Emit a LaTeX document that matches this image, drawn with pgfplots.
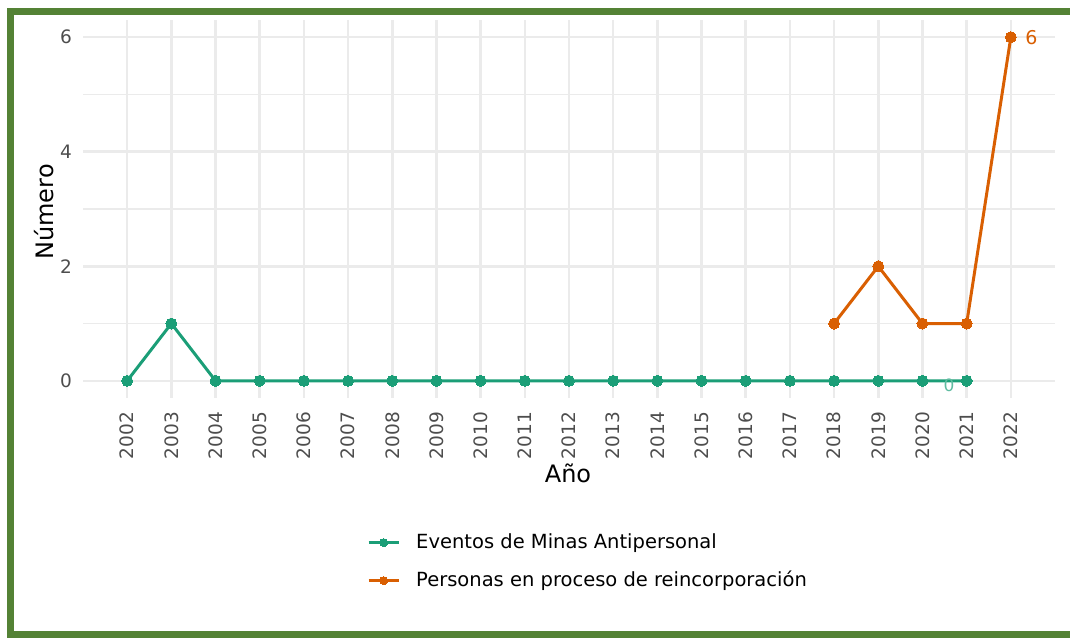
\documentclass[border=0pt]{standalone}
\usepackage{fontspec}
\setmainfont{DejaVu Sans}
\usepackage{pgfplots}
\pgfplotsset{compat=1.18}
\definecolor{cgreen}{HTML}{1B9E77}
\definecolor{corange}{HTML}{D95F02}
\definecolor{tickgray}{HTML}{4D4D4D}
\definecolor{gridgray}{HTML}{EBEBEB}
\definecolor{framegreen}{HTML}{548235}
\begin{document}
\begin{tikzpicture}[x=1pt,y=1pt]
\useasboundingbox (0,0) rectangle (1070,637);
\draw[framegreen, line width=7pt] (1070,625.5) -- (10.5,625.5) -- (10.5,2.5) -- (1070,2.5);
\begin{axis}[
  at={(83pt,239pt)}, anchor=south west,
  width=972pt, height=378pt, scale only axis,
  xmin=2001, xmax=2023, ymin=-0.3, ymax=6.3,
  axis line style={draw=none},
  major tick length=0pt, minor tick length=0pt,
  xtick={2002,2003,2004,2005,2006,2007,2008,2009,2010,2011,2012,2013,2014,2015,2016,2017,2018,2019,2020,2021,2022},
  xticklabels={2002,2003,2004,2005,2006,2007,2008,2009,2010,2011,2012,2013,2014,2015,2016,2017,2018,2019,2020,2021,2022},
  ytick={0,2,4,6}, yticklabels={0,2,4,6},
  minor ytick={1,3,5},
  xmajorgrids, ymajorgrids, yminorgrids,
  major grid style={gridgray, line width=2.5pt},
  minor grid style={gridgray, line width=1.3pt},
  xticklabel style={rotate=90, anchor=east, inner sep=0pt, font=\fontsize{18.5}{20}\selectfont, text=tickgray},
  yticklabel style={anchor=east, inner sep=0pt, font=\fontsize{18.5}{20}\selectfont, text=tickgray},
  xticklabel shift=14pt, yticklabel shift=11pt,
  clip=false,
  legend cell align=left,
  legend style={at={(rel axis cs:0.2922,-0.357)}, anchor=north west, draw=none, fill=none, inner sep=0pt,
    row sep=19pt, column sep=16pt, font=\fontsize{19.5}{21}\selectfont,
    nodes={inner sep=0pt, text height=15pt, text depth=4pt}},
  legend image code/.code={
    \draw[#1, mark=none] (0pt,0pt) -- (30pt,0pt);
    \draw[#1, mark size=4pt] plot coordinates {(15pt,0pt)};
  },
]
\addplot[cgreen, line width=3pt, mark=*, mark size=5.5pt, mark options={solid, line width=0pt}] coordinates {
(2002,0) (2003,1) (2004,0) (2005,0) (2006,0) (2007,0) (2008,0) (2009,0) (2010,0) (2011,0)
(2012,0) (2013,0) (2014,0) (2015,0) (2016,0) (2017,0) (2018,0) (2019,0) (2020,0) (2021,0)};
\addlegendentry{Eventos de Minas Antipersonal}
\addplot[corange, line width=3pt, mark=*, mark size=5.5pt, mark options={solid, line width=0pt}] coordinates {
(2018,1) (2019,2) (2020,1) (2021,1) (2022,6)};
\addlegendentry{Personas en proceso de reincorporación}
\node[text=corange, anchor=west, font=\fontsize{19}{20}\selectfont, xshift=11pt] at (axis cs:2022,6) {6};
\node[text=cgreen!70, font=\fontsize{17}{18}\selectfont] at (axis cs:2020.6,-0.07) {0};
\end{axis}
\node[rotate=90, anchor=base, font=\fontsize{24}{26}\selectfont] at (53,425) {Número};
\node[anchor=base, font=\fontsize{24}{26}\selectfont] at (568,154) {Año};
\end{tikzpicture}
\end{document}
